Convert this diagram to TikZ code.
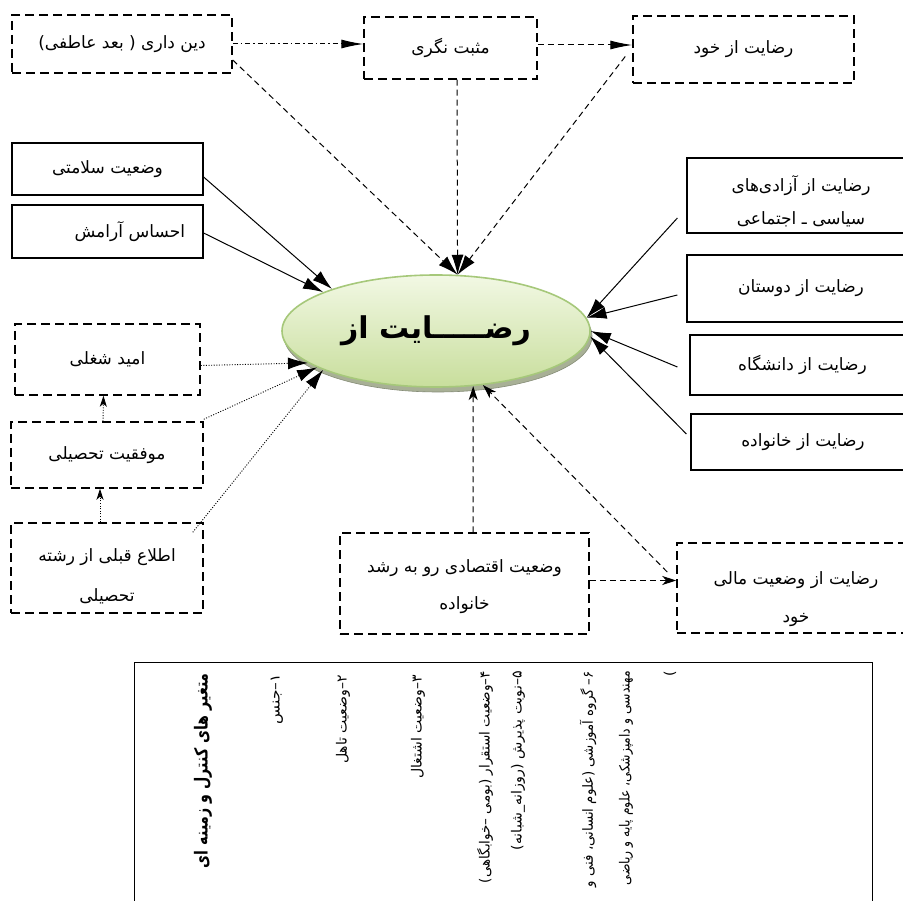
\documentclass[tikz,border=0pt]{standalone}
\usepackage{fontspec}
\usetikzlibrary{shapes.geometric,arrows.meta,calc}
\TeXXeTstate=1
\newfontfamily\arabicfont[Script=Arabic]{DejaVu Sans}
\newcommand{\shiftlines}[2]{\raisebox{#1}[\height][\depth]{\begin{tabular}{@{}c@{}}#2\end{tabular}}}
\definecolor{facetop}{RGB}{242,248,228}
\definecolor{facebot}{RGB}{200,222,156}
\definecolor{faceedge}{RGB}{166,200,122}
\definecolor{rimfill}{RGB}{168,176,150}
\begin{document}
\begin{tikzpicture}[x=1pt,y=-1pt,
  dbox/.style={draw, dash pattern=on 9pt off 5pt, line width=1.5pt, inner sep=0pt, align=center, font=\fontsize{17}{20}\selectfont\arabicfont},
  sbox/.style={draw, line width=1.2pt, inner sep=0pt, align=center, font=\fontsize{17}{20}\selectfont\arabicfont},
  sline/.style={line width=1pt, -{Latex[length=20pt,width=12pt]}},
  cdash/.style={line width=1pt, dash pattern=on 6pt off 4pt},
  dotl/.style={line width=0.9pt, dash pattern=on 1pt off 1.6pt},
  bighead/.style={-{Latex[length=20pt,width=12pt]}},
  longhead/.style={-{Latex[length=22pt,width=9pt]}},
  stealthhead/.style={-{Stealth[length=14pt,width=9pt,inset=4pt]}},
  ctext/.style={rotate=90, anchor=east, inner sep=0pt, font=\fontsize{14}{18}\selectfont\arabicfont},
]
\useasboundingbox (0,0) rectangle (903,901);
\fill[white] (0,0) rectangle (903,901);

% top row
\node[dbox, minimum width=220, minimum height=58] (din) at (122,44) {\beginR دین داری ( بعد عاطفی)\endR};
\node[dbox, minimum width=173, minimum height=62] (mosbat) at (450.5,48) {\beginR مثبت نگری\endR};
\node[dbox, minimum width=221, minimum height=67] (khod) at (743.5,49.5) {\beginR رضایت از خود\endR};

% left solid boxes
\node[sbox, minimum width=191, minimum height=52] (salamat) at (107.5,169) {\beginR وضعیت سلامتی\endR};
\node[sbox, minimum width=191, minimum height=53, text width=155, align=right] (aramesh) at (107.5,231.5) {\beginR احساس آرامش\endR};

% left dashed boxes
\node[dbox, minimum width=185, minimum height=71] (omid) at (107.5,359.5) {\beginR امید شغلی\endR};
\node[dbox, minimum width=192, minimum height=66] (movafagh) at (107,455) {\beginR موفقیت تحصیلی\endR};
\node[dbox, minimum width=192, minimum height=90, font=\fontsize{17}{40}\selectfont\arabicfont] (etela) at (107,568) {\shiftlines{-5pt}{\beginR اطلاع قبلی از رشته\endR\\\beginR تحصیلی\endR}};

% right solid boxes
\node[sbox, minimum width=228, minimum height=75, font=\fontsize{17}{33}\selectfont\arabicfont] (azadi) at (801,195.5) {\shiftlines{-6pt}{\beginR رضایت از آزادی‌های\endR\\\beginR سیاسی ـ اجتماعی\endR}};
\node[sbox, minimum width=228, minimum height=67] (dostan) at (801,288.5) {\beginR رضایت از دوستان\endR};
\node[sbox, minimum width=225, minimum height=60] (daneshgah) at (802.5,365) {\beginR رضایت از دانشگاه\endR};
\node[sbox, minimum width=224, minimum height=56] (khanevade) at (803,442) {\beginR رضایت  از خانواده\endR};

% bottom dashed boxes
\node[dbox, minimum width=249, minimum height=101, font=\fontsize{17}{37}\selectfont\arabicfont] (eqtesadi) at (464.5,583.5) {\shiftlines{0pt}{\beginR وضعیت اقتصادی رو به رشد\endR\\\beginR خانواده\endR}};
\node[dbox, minimum width=238, minimum height=90, font=\fontsize{17}{38}\selectfont\arabicfont] (mali) at (796,588) {\shiftlines{-8pt}{\beginR رضایت از وضعیت مالی\endR\\\beginR خود\endR}};

% central ellipse
\node[ellipse, minimum width=308, minimum height=112, inner sep=0pt, fill=rimfill, draw=rimfill!80!black, line width=0.6pt] (rim) at (438,336) {};
\node[ellipse, minimum width=308, minimum height=112, inner sep=0pt, top color=facetop, bottom color=facebot, draw=faceedge, line width=1.6pt, font=\fontsize{30}{36}\selectfont\bfseries\arabicfont] (ell) at (436,331) {\beginR رضـــــایت از\endR};

% control variables box
\node[draw, line width=1.3pt, minimum width=738, minimum height=300, anchor=north west, inner sep=0pt] (ctrl) at (134,662) {};
\node[ctext, font=\fontsize{18}{20}\selectfont\bfseries\arabicfont] (c0) at (203,673) {\resizebox{195pt}{\height}{\beginR متغیر های کنترل و زمینه ای\endR}};
\node[ctext] (c1) at (277,674) {\resizebox{50pt}{\height}{\beginR ۱–جنس\endR}};
\node[ctext] (c2) at (343,675) {\beginR ۲–وضعیت تاهل\endR};
\node[ctext] (c3) at (418,675) {\beginR ۳–وضعیت اشتغال\endR};
\node[ctext] (c4) at (485,671) {\resizebox{212pt}{\height}{\beginR ۴–وضعیت استقرار (بومی –خوابگاهی)\endR}};
\node[ctext] (c5) at (518,671) {\resizebox{179pt}{\height}{\beginR ۵–نوبت پذیرش (روزانه\_شبانه)\endR}};
\node[ctext] (c6) at (588,671) {\resizebox{216pt}{\height}{\beginR ۶– گروه آموزشی (علوم انسانی، فنی و\endR}};
\node[ctext] (c7) at (626,671) {\resizebox{214pt}{\height}{\beginR مهندسی و دامپزشکی، علوم پایه و ریاضی\endR}};
\node[ctext] (c8) at (670,671) {\beginR )\endR};

% connectors: top
\draw[line width=1pt, dash pattern=on 5pt off 3pt on 1.5pt off 3pt, longhead] (din.east) -- (din.east -| mosbat.west);
\coordinate (m1) at ($(mosbat.east)+(0,-3)$);
\draw[cdash, longhead] (m1) -- (m1 -| khod.west);
\draw[cdash, bighead] ($(din.east)+(0,16)$) -- (ell.69);
\draw[cdash, bighead] ($(mosbat.south)+(6.5,0)$) -- (ell.69);
\draw[cdash, bighead] ($(khod.west)+(-7,7)$) -- (ell.69);

% left solid
\draw[sline] ($(salamat.east)+(0,8)$) -- (ell.158);
\draw[sline] ($(aramesh.east)+(0,1.5)$) -- (ell.161);

% left dotted
\draw[dotl, bighead] ($(omid.east)+(0,6)$) -- (ell.194);
\draw[dotl, bighead] ($(movafagh.north east)+(0,-2)$) -- (ell.197);
\draw[dotl, bighead] ($(etela.north east)+(-11,10)$) -- (ell.199);
\draw[dotl, -{Stealth[length=11pt,width=7pt,inset=3pt]}] ($(etela.north)+(-7,0)$) -- ($(movafagh.south)+(-7,0)$);
\draw[dotl, -{Stealth[length=11pt,width=7pt,inset=3pt]}] ($(movafagh.north)+(-4,0)$) -- ($(omid.south)+(-4,0)$);

% right solid
\draw[sline] ($(azadi.west)+(-9,22.5)$) -- (ell.5);
\draw[sline] ($(dostan.west)+(-9,6.5)$) -- (ell.5);
\draw[sline] ($(daneshgah.west)+(-12,2)$) -- (ell.0);
\draw[sline] ($(khanevade.west)+(-4,-8)$) -- (ell.-2);

% bottom
\draw[cdash, stealthhead] ($(eqtesadi.north)+(8.5,0)$) -- (ell.-56);
\draw[cdash, stealthhead] ($(mali.west)+(-9,-16)$) -- (ell.-49);
\coordinate (q) at ($(eqtesadi.east)+(0,-3)$);
\draw[cdash, stealthhead] (q) -- (q -| mali.west);
\end{tikzpicture}
\end{document}
